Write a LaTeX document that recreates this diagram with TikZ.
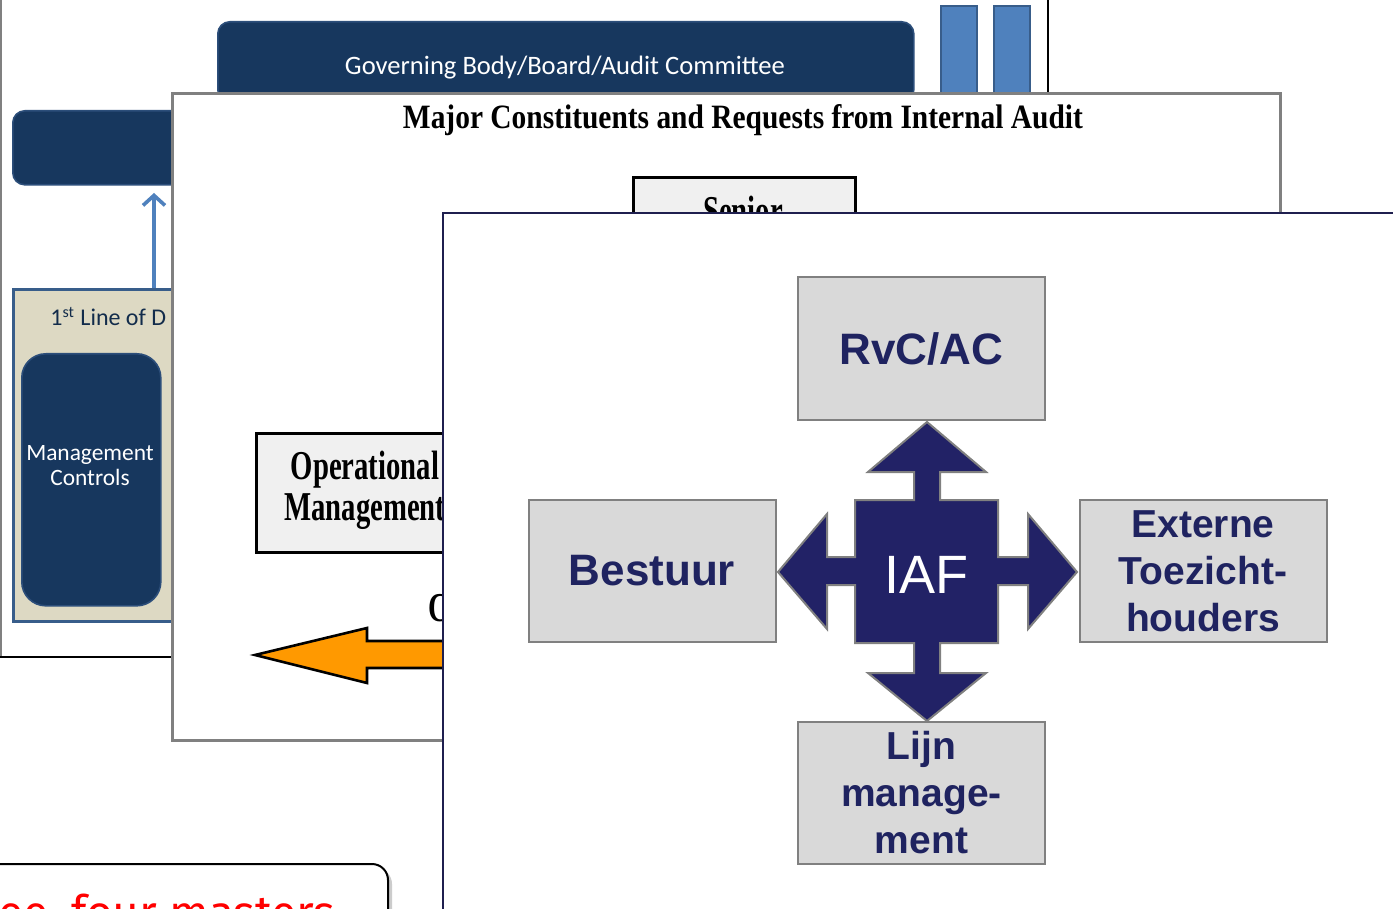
\documentclass[tikz,border=0pt]{standalone}
\usepackage{fontspec}
\usepackage{graphicx}
\setmainfont{Liberation Serif}
\newfontfamily\arialf{Liberation Sans}
\newfontfamily\calibrif{Carlito}
\newfontfamily\redf{Fira Sans}
\usetikzlibrary{arrows.meta}
\definecolor{navyA}{HTML}{17375E}
\definecolor{navyB}{HTML}{2C4E7A}
\definecolor{barblue}{HTML}{4F81BD}
\definecolor{bardark}{HTML}{385D8A}
\definecolor{beige}{HTML}{DDD9C3}
\definecolor{slidegray}{HTML}{808080}
\definecolor{boxgray}{HTML}{D9D9D9}
\definecolor{iafnavy}{HTML}{222266}
\definecolor{txtnavy}{HTML}{1F2360}
\definecolor{frontedge}{HTML}{1F1F4F}
\definecolor{orangeA}{HTML}{FF9900}
\newcommand\condtxt[1]{\scalebox{0.70}[1]{\fontsize{20.5}{20.5}\selectfont\bfseries #1}}
\tikzset{
  navybox/.style={fill=navyA, draw=navyB, line width=0.8pt, rounded corners=6pt},
  grayslide/.style={fill=white, draw=slidegray, line width=1.5pt},
  texbox/.style={fill=gray!12, draw=black, line width=1.5pt},
  ivbox/.style={fill=boxgray, draw=slidegray, line width=1pt, minimum width=123.5pt, minimum height=71pt,
     inner sep=0pt, align=center, text=txtnavy, font=\arialf\bfseries\fontsize{19.5}{23.5}\selectfont},
  bar/.style={fill=barblue, draw=bardark, line width=0.8pt}
}
\begin{document}
\begin{tikzpicture}[x=0.5pt,y=-0.5pt]
\path[clip] (0,0) rectangle (1393,909);
\fill[white] (0,0) rectangle (1393,909);
% ---------- back slide ----------
\fill[white] (0,-10) rectangle (1048,657);
\draw[slidegray, line width=1pt] (1,-10) -- (1,657);
\draw[black, line width=1pt] (1048,-10) -- (1048,657) -- (0,657);
\node[navybox, minimum width=348pt, minimum height=40pt, anchor=north west, inner sep=0pt] (gov) at (217,21) {};
\node[anchor=base, text=white, font=\calibrif\fontsize{13.3}{15}\selectfont] (govt) at (565,75) {Governing Body/Board/Audit Committee};
\node[bar, minimum width=18pt, minimum height=45pt, anchor=north west, inner sep=0pt] (bar1) at (940,5) {};
\node[bar, minimum width=18pt, minimum height=45pt, anchor=north west, inner sep=0pt] (bar2) at (993,5) {};
\node[navybox, minimum width=120pt, minimum height=37pt, anchor=north west, inner sep=0pt] (lefttop) at (12,110) {};
\node[fill=beige, draw=bardark, line width=1.3pt, minimum width=120pt, minimum height=166pt, anchor=north west, inner sep=0pt] (panel) at (12,288) {};
\coordinate (arrs) at (154,288);
\coordinate (arre) at (154,193);
\draw[barblue, line width=1.8pt, -{Straight Barb[length=5pt,width=11pt,line width=1.8pt]}] (arrs) -- (arre);
\node[anchor=base west, inner sep=0pt, text=navyA!80!black, font=\calibrif\fontsize{12}{14}\selectfont] (line1) at (50,326) {1\textsuperscript{st} Line of D};
\node[navybox, rounded corners=12pt, minimum width=69.5pt, minimum height=126pt, anchor=north west, inner sep=0pt] (mc) at (21,353) {};
\node[text=white, align=center, font=\calibrif\fontsize{11.7}{12.5}\selectfont] (mct) at (90,466) {Management\\Controls};
% ---------- middle slide ----------
\node[grayslide, minimum width=554pt, minimum height=323.5pt, anchor=north west, inner sep=0pt] (mid) at (171,92) {};
\node[anchor=base, inner sep=0pt] (title) at (743,129) {\resizebox{340pt}{12pt}{\bfseries Major Constituents and Requests from Internal Audit}};
\node[texbox, minimum width=111pt, minimum height=50pt, anchor=north west, inner sep=0pt] (senior) at (632,176) {};
\node[anchor=base, inner sep=0pt] (seniort) at (743,225) {\condtxt{Senior}};
\node[texbox, minimum width=115pt, minimum height=59.5pt, anchor=north west, inner sep=0pt] (opm) at (255,432) {};
\node[anchor=base, inner sep=0pt] (opm1) at (365,479) {\condtxt{Operational}};
\node[anchor=base, inner sep=0pt] (opm2) at (365,520) {\condtxt{Management}};
\node[anchor=base west, inner sep=0pt] (cee) at (428,621) {\condtxt{C}};
\draw[fill=orangeA, draw=black, line width=1.3pt] (255,655) -- (367,628) -- (367,641) -- (470,641) -- (470,668) -- (367,668) -- (367,683) -- cycle;
% ---------- front slide ----------
\node[fill=white, draw=frontedge, line width=1pt, minimum width=500pt, minimum height=400pt, anchor=north west, inner sep=0pt] (front) at (442,212) {};
\node[ivbox, font=\arialf\bfseries\fontsize{22}{26}\selectfont] (rvc) at (921.5,348.5) {RvC/AC};
\node[ivbox, font=\arialf\bfseries\fontsize{22}{26}\selectfont] (bestuur) at (652,571) {Bestuur};
\node[ivbox] (ext) at (1203,571) {Externe\\Toezicht-\\houders};
\node[ivbox] (lijn) at (921.5,793) {Lijn\\manage-\\ment};
\draw[fill=iafnavy, draw=slidegray, line width=1pt]
  (927,422) -- (986,472) -- (940,472) -- (940,500) -- (998,500) -- (998,557) -- (1028,557) -- (1028,514)
  -- (1077,572) -- (1028,629) -- (1028,585) -- (998,585) -- (998,643) -- (940,643) -- (940,673)
  -- (986,673) -- (927,721) -- (868,673) -- (914,673) -- (914,643) -- (855,643) -- (855,585)
  -- (827,585) -- (827,629) -- (778,572) -- (827,514) -- (827,557) -- (855,557) -- (855,500)
  -- (914,500) -- (914,472) -- (868,472) -- cycle;
\node[anchor=base, text=white, font=\arialf\fontsize{27}{30}\selectfont] (iaf) at (926,593) {IAF};
% ---------- red note ----------
\fill[gray!40] (-20,868) [rounded corners=8pt] -- (392,868) -- (392,960) [sharp corners] -- (-20,960) -- cycle;
\draw[fill=white, draw=black, line width=1pt, rounded corners=8pt] (-20,864) -- (388,864) -- (388,960) -- (-20,960);
\node[anchor=base east, inner sep=0pt, text=red, font=\redf\fontsize{23}{25}\selectfont] (note) at (335,928) {ree, four masters};
\end{tikzpicture}
\end{document}
